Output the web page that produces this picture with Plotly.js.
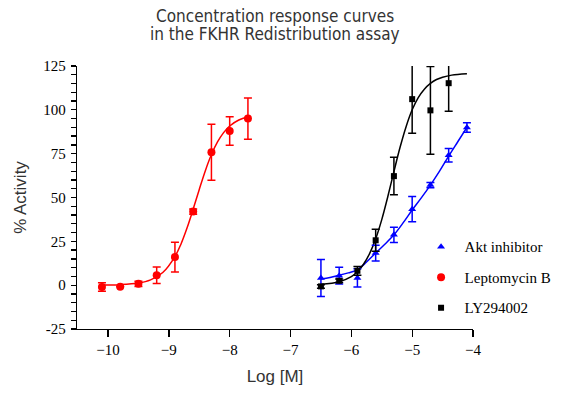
<!DOCTYPE html>
<html>
<head>
<meta charset="utf-8">
<script src="https://cdn.plot.ly/plotly-3.0.1.min.js"></script>
<style>html,body{margin:0;padding:0;background:#fff;}#chart{width:575px;height:394px;}</style>
</head>
<body>
<div id="chart"></div>
<script>
// ---- data ----
const titleLines = ["Concentration response curves", "in the FKHR Redistribution assay"];
const seriesNames = ["Akt inhibitor", "Leptomycin B", "LY294002"];

// y-axis ticks every 5 (labelled every 25)
const yTickVals = [-25, -20, -15, -10, -5, 0, 5, 10, 15, 20, 25, 30, 35, 40, 45, 50, 55, 60, 65, 70, 75,
                   80, 85, 90, 95, 100, 105, 110, 115, 120, 125];
const yTickLabelled = [-25, 0, 25, 50, 75, 100, 125];

// Akt inhibitor (blue triangles)
const aktX   = [-6.5, -6.2, -5.9, -5.6, -5.3, -5.0, -4.7, -4.4, -4.1];
const aktY   = [4.1, 5.4, 4.1, 18.3, 28.7, 43.3, 57.1, 74.1, 89.9];
const aktErr = [10.6, 4.8, 5.2, 4.5, 4.4, 7.2, 1.5, 3.8, 2.7];
const aktCurveX = [-6.5, -6.35, -6.2, -6.05, -5.9, -5.75, -5.6, -5.45, -5.3, -5.15, -5.0, -4.85, -4.7, -4.55, -4.4, -4.25, -4.1];
const aktCurveY = [3.5, 4.4, 5.6, 7.0, 8.8, 13.2, 18.4, 23.3, 28.7, 35.5, 42.9, 49.8, 57.1, 65.0, 73.6, 81.8, 90.0];

// Leptomycin B (red circles)
const lepX   = [-10.1, -9.8, -9.5, -9.2, -8.9, -8.6, -8.3, -8.0, -7.7];
const lepY   = [-1.0, -0.9, 0.8, 5.6, 16.0, 42.0, 75.8, 87.9, 95.0];
const lepErr = [2.4, 0, 1.5, 4.7, 8.5, 1.5, 16.0, 8.1, 11.8];
const lepCurveX = [-10.1, -9.8, -9.5, -9.3, -9.1, -8.9, -8.8, -8.7, -8.6, -8.5, -8.4, -8.3, -8.2, -8.1, -8.0, -7.85, -7.7];
const lepCurveY = [0.1, 0.3, 1.2, 3.0, 7.2, 16.3, 23.5, 32.7, 43.4, 54.6, 65.3, 74.5, 81.7, 87.0, 90.8, 94.2, 96.1];

// LY294002 (black squares)
const lyX   = [-6.5, -6.2, -5.9, -5.6, -5.3, -5.0, -4.7, -4.4];
const lyY   = [-0.7, 2.5, 8.2, 25.6, 62.2, 106.1, 99.7, 115.2];
const lyErr = [1.0, 1.0, 2.5, 6.3, 10.7, 19.5, 25.0, 16.0];
const lyCurveX = [-6.5, -6.2, -6.0, -5.9, -5.8, -5.7, -5.6, -5.5, -5.4, -5.3, -5.2, -5.1, -5.0, -4.9, -4.8, -4.7, -4.6, -4.5, -4.35, -4.1];
const lyCurveY = [0.5, 2.0, 4.9, 7.7, 11.9, 18.0, 26.4, 37.4, 50.6, 64.8, 78.5, 90.4, 100.0, 107.0, 111.8, 115.1, 117.3, 118.6, 119.8, 120.6];

// ---- traces ----
function curve(x, y, color) {
  return {x: x, y: y, type: 'scatter', mode: 'lines', showlegend: false, hoverinfo: 'skip',
          line: {color: color, width: 1.5, shape: 'spline', smoothing: 1}};
}
function points(name, x, y, err, color, symbol, size, grp) {
  return {x: x, y: y, name: name, type: 'scatter', mode: 'markers', legendgroup: grp,
          marker: {color: color, symbol: symbol, size: size},
          error_y: {type: 'data', array: err, visible: true, color: color, thickness: 1.5, width: 4}};
}

const traces = [
  curve(aktCurveX, aktCurveY, '#0000ff'),
  curve(lepCurveX, lepCurveY, '#ff0000'),
  curve(lyCurveX, lyCurveY, '#000000'),
  points(seriesNames[0], aktX, aktY, aktErr, '#0000ff', 'triangle-up', 7, 'a'),
  points(seriesNames[1], lepX, lepY, lepErr, '#ff0000', 'circle', 8, 'b'),
  points(seriesNames[2], lyX, lyY, lyErr, '#000000', 'square', 6, 'c')
];

const serif = '"Liberation Serif", "Times New Roman", serif';
const narrow = '"DejaVu Sans Condensed", "Liberation Sans Narrow", "Arial Narrow", sans-serif';
const sans = '"Liberation Sans", Arial, sans-serif';
const titleFont = {family: narrow, size: 17, color: '#333333'};

const layout = {
  width: 575, height: 394,
  margin: {l: 77, r: 102, t: 66, b: 65},
  paper_bgcolor: '#ffffff', plot_bgcolor: '#ffffff',
  annotations: [
    {text: titleLines[0], xref: 'paper', yref: 'paper', x: 0.5, y: 1.19, xanchor: 'center', yanchor: 'middle',
     showarrow: false, font: titleFont},
    {text: titleLines[1], xref: 'paper', yref: 'paper', x: 0.5, y: 1.122, xanchor: 'center', yanchor: 'middle',
     showarrow: false, font: titleFont}
  ],
  xaxis: {range: [-10.51, -4], tickmode: 'linear', tick0: -10, dtick: 1,
          showgrid: false, zeroline: false, showline: true, linecolor: '#000', linewidth: 1.3,
          ticks: 'outside', ticklen: 7, tickwidth: 1.3, tickcolor: '#000',
          tickfont: {family: serif, size: 15, color: '#000'},
          title: {text: 'Log [M]', font: {family: sans, size: 17, color: '#333'}, standoff: 12}},
  yaxis: {range: [-25, 125], tickmode: 'array', tickvals: yTickVals,
          ticktext: yTickVals.map(v => yTickLabelled.includes(v) ? String(v) : '\u00a0'),
          showgrid: false, zeroline: false, showline: true, linecolor: '#000', linewidth: 1.3,
          ticks: 'outside', ticklen: 5, tickwidth: 1.3, tickcolor: '#000', ticklabelstandoff: 2,
          tickfont: {family: serif, size: 15, color: '#000'},
          title: {text: '% Activity', font: {family: sans, size: 17, color: '#333'}, standoff: 12}},
  legend: {x: 0.86, xanchor: 'left', y: 0.375, yanchor: 'top', bgcolor: 'rgba(0,0,0,0)', itemwidth: 37,
           font: {family: serif, size: 15, color: '#000'}, traceorder: 'grouped', tracegroupgap: 8},
  showlegend: true
};

Plotly.newPlot('chart', traces, layout, {displayModeBar: false, staticPlot: true});
</script>
</body>
</html>
